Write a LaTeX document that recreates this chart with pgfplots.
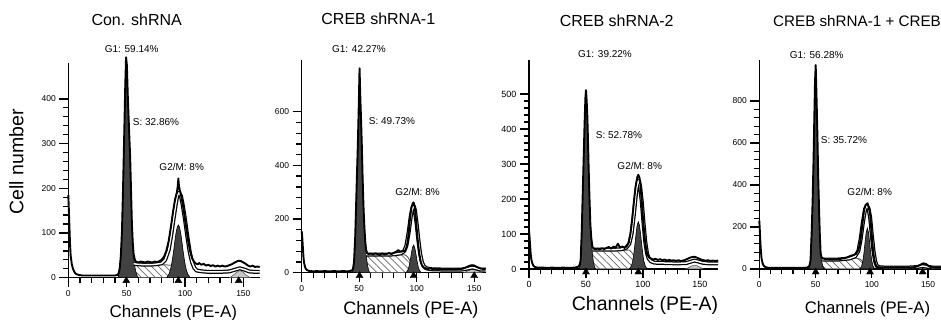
\documentclass[border=0pt]{standalone}
\usepackage{fontspec}
\setmainfont{Liberation Sans}
\usepackage{pgfplots}
\usepackage{pgfplotstable}
\pgfplotsset{compat=1.18}
\usetikzlibrary{patterns.meta}
\definecolor{darkfill}{RGB}{66,66,66}
\definecolor{hatchgray}{RGB}{105,105,105}
\pgfplotsset{
  flowaxis/.style={
    scale only axis, anchor=south west,
    axis lines=left, axis line style={-, line width=1.5pt},
    xmin=0, ymin=0, clip=false,
    tick align=outside, major tick length=9pt, minor tick length=5.5pt,
    tick style={black, line width=1.3pt},
    minor tick num=4, xtick={0,50,100,150},
    tick label style={font=\fontsize{8.5}{9}\selectfont},
    /pgf/number format/assume math mode=true,
    /pgf/number format/1000 sep={},
  },
  rawline/.style={black, line width=1.9pt, line join=round},
  envblack/.style={black, line width=4pt, line join=round},
  envwhite/.style={white, line width=1.5pt, line join=round},
  pkfill/.style={fill=darkfill, draw=black, line width=0.6pt},
  sfill/.style={fill=white, draw=gray!60!black, line width=0.5pt,
    postaction={pattern={Lines[angle=-45,distance=5pt,line width=0.7pt]}, pattern color=hatchgray}},
  agfill/.style={fill=gray!45, draw=gray!60!black, line width=0.5pt},
  tri/.style={only marks, mark=triangle*, mark size=4pt, black},
}
\begin{document}
\begin{tikzpicture}
\useasboundingbox (0,0) rectangle (941pt,320pt);
% ---------------- Panel 1 ----------------
\begin{axis}[flowaxis, at={(68.3pt,42.3pt)}, width=191.4pt, height=214.6pt,
  xmax=164, ymax=480, ytick={0,100,200,300,400}]
\addplot[sfill] coordinates {(48,0) (50,6) (52,15) (54,23) (56,28) (60,29) (70,29) (80,29) (88,28) (90,24) (92,18) (95,11) (98,5) (101,0)} \closedcycle;
\addplot[agfill] coordinates {(138,0) (140,3) (142,7) (144,12) (146,15) (148,15) (150,12) (152,7) (154,3) (156,0)} \closedcycle;
\addplot[pkfill] coordinates {(84.3,0) (85.3,4.3) (86.3,8.6) (87.3,16) (88.3,27) (89.3,42.5) (90.3,61) (91.3,82) (92.3,100) (93.3,113) (94.3,118) (95.3,113) (96.3,100) (97.3,82) (98.3,61) (99.3,42.5) (100.3,27) (101.3,16) (102.3,8.6) (103.3,4.3) (104.3,0)} \closedcycle;
\addplot[pkfill] coordinates {(43,0) (43,9) (44,20) (45,48) (46,105) (47,210) (48,330) (48.8,430) (49.5,493) (50.2,475) (51,405) (52,335) (53,270) (53.8,190) (54.5,120) (55.3,75) (56,45) (57,25) (58,12) (59,4) (60,0)} \closedcycle;
\addplot[envblack] coordinates {(56,31) (60,30) (65,29) (70,29) (75,30) (80,32) (83,40) (86,62) (88,92) (90,128) (92,163) (93.5,185) (95,190) (96.5,183) (98,163) (100,130) (102,92) (104,58) (106,35) (108,22) (110,16) (115,14) (120,13) (130,13) (138,14) (143,18) (147,21) (151,18) (155,14) (160,13) (164,13)};
\addplot[envwhite] coordinates {(56,31) (60,30) (65,29) (70,29) (75,30) (80,32) (83,40) (86,62) (88,92) (90,128) (92,163) (93.5,185) (95,190) (96.5,183) (98,163) (100,130) (102,92) (104,58) (106,35) (108,22) (110,16) (115,14) (120,13) (130,13) (138,14) (143,18) (147,21) (151,18) (155,14) (160,13) (164,13)};
\addplot[rawline] coordinates {(0,185) (0.5,150) (1,110) (1.5,75) (2,50) (3,30) (4,20) (5,14) (6,10) (7,8) (9,6) (12,5) (16,5) (20,5) (25,5) (30,5) (35,5) (40,5) (42,6) (43,9) (44,20) (45,48) (46,105) (47,210) (48,330) (48.8,430) (49.5,493) (50.2,475) (51,405) (52,335) (53,270) (53.8,190) (54.5,120) (55.3,75) (56,52) (57,40) (58,36) (60,34) (62,36) (64,35) (66,34) (68,36) (70,35) (72,34) (74,36) (76,35) (78,37) (80,40) (82,47) (84,60) (86,82) (88,115) (90,152) (91.5,175) (93,190) (93.8,205) (94.3,222) (94.8,205) (95.5,196) (97,180) (98.5,158) (100,130) (101.5,104) (103,78) (104.5,58) (106,44) (107.5,37) (109,32) (111,30) (112,33) (114,29) (116,31) (118,27) (120,29) (122,26) (124,28) (126,25) (128,27) (130,25) (132,27) (134,25) (136,26) (138,28) (140,30) (142,33) (144,36) (146,38) (148,37) (150,34) (152,31) (154,27) (156,25) (158,27) (160,24) (162,25) (164,24)};
\addplot[tri] coordinates {(49.7,-6.7) (94.3,-6.7) (146,-6.7)};
\end{axis}
% ---------------- Panel 2 ----------------
\begin{axis}[flowaxis, at={(301.7pt,47.3pt)}, width=184pt, height=212.7pt,
  xmax=160, ymax=793, ytick={0,200,400,600}]
\addplot[sfill] coordinates {(48,0) (50,10) (52,30) (54,52) (56,64) (58,66) (70,66) (80,66) (90,66) (92,60) (94,45) (96,30) (98,18) (100,8) (102,0)} \closedcycle;
\addplot[agfill] coordinates {(141,0) (144,6) (147,11) (149,12) (151,11) (154,6) (157,0)} \closedcycle;
\addplot[pkfill] coordinates {(90.3,0) (91.3,3.4) (92.3,9.7) (93.3,22.7) (94.3,44) (95.3,70.5) (96.3,94) (97.3,103) (98.3,94) (99.3,70.5) (100.3,44) (101.3,22.7) (102.3,9.7) (103.3,3.4) (104.3,0)} \closedcycle;
\addplot[pkfill] coordinates {(44,0) (44.5,12) (45.5,40) (46.5,130) (47.3,250) (48,360) (48.7,460) (49.5,600) (50.3,762) (51,650) (51.7,560) (52.3,470) (53,350) (53.7,250) (54.5,170) (55.3,115) (56,70) (57,35) (58,12) (59,0)} \closedcycle;
\addplot[envblack] coordinates {(56,68) (60,67) (70,67) (80,68) (86,72) (89,80) (91,100) (93,150) (95,215) (96.5,245) (97.5,248) (98.5,232) (100,180) (101.5,120) (103,70) (104.5,40) (106,25) (108,17) (112,13) (120,12) (130,11) (140,12) (145,16) (148,19) (151,17) (155,12) (160,11)};
\addplot[envwhite] coordinates {(56,68) (60,67) (70,67) (80,68) (86,72) (89,80) (91,100) (93,150) (95,215) (96.5,245) (97.5,248) (98.5,232) (100,180) (101.5,120) (103,70) (104.5,40) (106,25) (108,17) (112,13) (120,12) (130,11) (140,12) (145,16) (148,19) (151,17) (155,12) (160,11)};
\addplot[rawline] coordinates {(0,155) (0.5,130) (1,95) (1.5,60) (2,38) (3,20) (4,12) (5,9) (6,7) (8,6) (10,5) (13,6) (16,5) (20,6) (24,5) (28,6) (32,5) (36,6) (40,5) (43,7) (44.5,12) (45.5,40) (46.5,130) (47.3,250) (48,360) (48.7,460) (49.5,600) (50.3,762) (51,650) (51.7,560) (52.3,470) (53,350) (53.7,250) (54.5,170) (55.3,115) (56,85) (57,72) (58,70) (60,71) (62,68) (64,72) (66,69) (68,66) (70,72) (72,68) (74,70) (76,73) (78,69) (80,74) (82,78) (84,84) (86,78) (88,80) (90,82) (91.5,100) (92.7,135) (94,195) (95.3,240) (96.5,258) (97.3,262) (98.3,245) (99.3,200) (100.3,150) (101.3,105) (102.3,70) (103.3,45) (104.5,28) (106,20) (108,16) (110,14) (112,16) (114,13) (116,15) (118,12) (120,14) (122,12) (124,13) (126,12) (128,14) (130,12) (132,13) (134,12) (136,14) (138,13) (140,15) (142,18) (144,22) (146,26) (148,28) (150,27) (152,22) (154,18) (156,15) (158,14) (160,14)};
\addplot[tri] coordinates {(50.3,-11.2) (97.3,-11.2) (150,-11.2)};
\end{axis}
% ---------------- Panel 3 ----------------
\begin{axis}[flowaxis, at={(529pt,51pt)}, width=189.2pt, height=209pt,
  xmax=166, ymax=597, ytick={0,100,200,300,400,500},
  tick label style={font=\fontsize{9}{10}\selectfont}]
\addplot[sfill] coordinates {(47,0) (49,8) (51,22) (53,40) (55,51) (57,54) (70,54) (80,54) (88,54) (90,48) (92,38) (94,27) (96,17) (98,9) (100,3) (102,0)} \closedcycle;
\addplot[agfill] coordinates {(137,0) (140,4) (143,9) (145,11) (147,10) (150,5) (153,0)} \closedcycle;
\addplot[pkfill] coordinates {(87.9,0) (88.9,3.6) (89.9,9.4) (90.9,21.2) (91.9,41.3) (92.9,69.4) (93.9,100.5) (94.9,125.4) (95.9,135) (96.9,125.4) (97.9,100.5) (98.9,69.4) (99.9,41.3) (100.9,21.2) (101.9,9.4) (102.9,3.6) (103.9,0)} \closedcycle;
\addplot[pkfill] coordinates {(44,0) (44.5,12) (45.3,25) (46.2,100) (47,200) (47.9,310) (48.8,420) (49.5,490) (50,511) (50.6,480) (51.2,435) (51.8,360) (52.3,292) (53,210) (53.8,130) (54.6,85) (55.6,45) (56.5,20) (57.5,6) (58.5,0)} \closedcycle;
\addplot[envblack] coordinates {(56,55) (60,55) (70,55) (80,56) (85,60) (88,72) (90,100) (92,155) (94,220) (95.5,250) (96.5,252) (97.5,235) (99,190) (100.5,130) (102,78) (103.5,45) (105,30) (107,22) (110,18) (120,17) (130,16) (138,17) (142,21) (145,24) (148,22) (152,18) (158,16) (166,16)};
\addplot[envwhite] coordinates {(56,55) (60,55) (70,55) (80,56) (85,60) (88,72) (90,100) (92,155) (94,220) (95.5,250) (96.5,252) (97.5,235) (99,190) (100.5,130) (102,78) (103.5,45) (105,30) (107,22) (110,18) (120,17) (130,16) (138,17) (142,21) (145,24) (148,22) (152,18) (158,16) (166,16)};
\addplot[rawline] coordinates {(0,110) (0.5,90) (1,65) (1.5,42) (2,28) (3,15) (4,9) (5,6) (6,5) (8,4) (12,4) (16,3) (20,4) (25,3) (30,4) (35,3) (40,4) (43,6) (44.5,12) (45.3,25) (46.2,100) (47,200) (47.9,310) (48.8,420) (49.5,490) (50,511) (50.6,480) (51.2,435) (51.8,360) (52.3,292) (53,210) (53.8,130) (54.6,90) (55.6,64) (56.7,58) (58,57) (60,58) (62,56) (64,59) (66,57) (68,60) (70,63) (72,58) (74,64) (76,61) (78,72) (79,66) (80,62) (82,64) (84,60) (86,66) (87.5,75) (89,100) (90.5,140) (92,190) (93.5,235) (95,262) (95.9,269) (97,260) (98,230) (99,190) (100,145) (101,105) (102,75) (103,52) (104,40) (105.5,32) (107,30) (109,27) (111,29) (113,26) (115,28) (117,25) (119,27) (121,24) (123,26) (125,24) (127,25) (129,23) (131,25) (133,23) (135,24) (137,26) (139,29) (141,32) (143,34) (145,35) (147,33) (149,30) (151,27) (153,25) (155,24) (157,25) (159,23) (161,24) (163,23) (166,24)};
\addplot[tri] coordinates {(50,-8.6) (95.9,-8.6)};
\end{axis}
% ---------------- Panel 4 ----------------
\begin{axis}[flowaxis, at={(759.3pt,51pt)}, width=182.3pt, height=209pt,
  xmax=162, ymax=995, ytick={0,200,400,600,800}]
\addplot[sfill] coordinates {(47,0) (49,8) (51,20) (53,32) (55,40) (58,42) (65,42) (72,44) (80,48) (86,52) (89,48) (91,40) (93,30) (95,20) (97,12) (99,5) (101,0)} \closedcycle;
\addplot[agfill] coordinates {(138,0) (141,5) (144,10) (146,11) (148,9) (151,4) (154,0)} \closedcycle;
\addplot[pkfill] coordinates {(89,0) (90,4.8) (91,14.8) (92,37.2) (93,76.7) (94,128.5) (95,175) (96,194) (97,175) (98,128.5) (99,76.7) (100,37.2) (101,14.8) (102,4.8) (103,0)} \closedcycle;
\addplot[pkfill] coordinates {(44,0) (44.5,15) (45.5,40) (46.5,170) (47.4,329) (48.2,520) (48.9,725) (49.5,890) (50.1,971) (50.7,850) (51.6,646) (52.3,450) (53.1,281) (53.8,160) (54.5,75) (55.3,40) (56.3,15) (57.3,4) (58,0)} \closedcycle;
\addplot[envblack] coordinates {(56,45) (70,45) (80,50) (85,60) (88,85) (90,140) (92,220) (94,285) (95.5,300) (97,290) (98.5,245) (100,160) (101.5,85) (103,35) (104.5,14) (107,8) (115,6) (130,6) (140,9) (145,14) (150,10) (155,6) (162,6)};
\addplot[envwhite] coordinates {(56,45) (70,45) (80,50) (85,60) (88,85) (90,140) (92,220) (94,285) (95.5,300) (97,290) (98.5,245) (100,160) (101.5,85) (103,35) (104.5,14) (107,8) (115,6) (130,6) (140,9) (145,14) (150,10) (155,6) (162,6)};
\addplot[rawline] coordinates {(0,230) (0.5,180) (1,120) (1.5,80) (2,50) (3,25) (4,15) (5,11) (6,8) (8,6) (12,5) (16,6) (20,5) (25,6) (30,5) (35,6) (40,5) (43,8) (44.5,15) (45.5,40) (46.5,170) (47.4,329) (48.2,520) (48.9,725) (49.5,890) (50.1,971) (50.7,850) (51.6,646) (52.3,450) (53.1,281) (53.8,160) (54.5,75) (55.3,55) (56.3,51) (58,48) (60,47) (62,46) (64,45) (66,46) (68,45) (70,47) (72,48) (74,50) (76,52) (78,55) (80,60) (82,64) (84,67) (86,72) (88,90) (89.5,122) (91,186) (93.1,281) (94.5,305) (95.5,310) (96.2,313) (97.3,290) (98.4,265) (99.5,190) (100.5,122) (101.4,75) (102.3,43) (103.3,22) (104.3,11) (106,8) (108,7) (112,6) (116,7) (120,6) (125,7) (130,6) (135,7) (138,9) (141,14) (143,20) (145.8,27) (148,24) (150,16) (152,10) (155,7) (158,6) (162,6)};
\addplot[tri] coordinates {(50.1,-14.3) (98.4,-14.3) (145.2,-14.3)};
\end{axis}
% ---------------- Texts ----------------
\node[anchor=base, font=\fontsize{16}{18}\selectfont] at (136.7pt,294pt) {Con. shRNA};
\node[anchor=base, font=\fontsize{16}{18}\selectfont] at (378.3pt,295pt) {CREB shRNA-1};
\node[anchor=base, font=\fontsize{16}{18}\selectfont] at (616.7pt,293.3pt) {CREB shRNA-2};
\node[anchor=base west, inner sep=0pt, font=\fontsize{15.2}{18}\selectfont] at (773pt,293.3pt) {CREB shRNA-1 + CREB};
\node[anchor=base, font=\fontsize{10}{12}\selectfont] at (131.7pt,267.3pt) {G1: 59.14\%};
\node[anchor=base, font=\fontsize{10}{12}\selectfont] at (156pt,194.7pt) {S: 32.86\%};
\node[anchor=base, font=\fontsize{10}{12}\selectfont] at (181.7pt,149.7pt) {G2/M: 8\%};
\node[anchor=base, font=\fontsize{10}{12}\selectfont] at (359pt,267.1pt) {G1: 42.27\%};
\node[anchor=base, font=\fontsize{10}{12}\selectfont] at (392pt,195.7pt) {S: 49.73\%};
\node[anchor=base, font=\fontsize{10}{12}\selectfont] at (417.5pt,124.7pt) {G2/M: 8\%};
\node[anchor=base, font=\fontsize{10}{12}\selectfont] at (605pt,262.1pt) {G1: 39.22\%};
\node[anchor=base, font=\fontsize{10}{12}\selectfont] at (619pt,181.4pt) {S: 52.78\%};
\node[anchor=base, font=\fontsize{10}{12}\selectfont] at (639.7pt,150.7pt) {G2/M: 8\%};
\node[anchor=base, font=\fontsize{10}{12}\selectfont] at (816.7pt,261.4pt) {G1: 56.28\%};
\node[anchor=base, font=\fontsize{10}{12}\selectfont] at (844pt,176.4pt) {S: 35.72\%};
\node[anchor=base, font=\fontsize{10}{12}\selectfont] at (869.7pt,124.7pt) {G2/M: 8\%};
\node[anchor=base, font=\fontsize{17}{20}\selectfont] at (173.3pt,2pt) {Channels (PE-A)};
\node[anchor=base, font=\fontsize{18}{21}\selectfont] at (410.8pt,5pt) {Channels (PE-A)};
\node[anchor=base, font=\fontsize{19.5}{22}\selectfont] at (645pt,9.3pt) {Channels (PE-A)};
\node[anchor=base, font=\fontsize{16.7}{20}\selectfont] at (867.5pt,6.7pt) {Channels (PE-A)};
\node[anchor=base, rotate=90, font=\fontsize{19.5}{22}\selectfont] at (23.3pt,158pt) {Cell number};
\end{tikzpicture}
\end{document}
